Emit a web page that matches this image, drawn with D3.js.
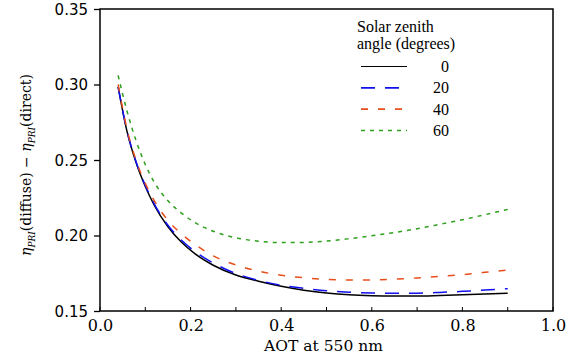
<!DOCTYPE html>
<html lang="en">
<head>
  <meta charset="UTF-8">
  <title>PRI difference vs AOT</title>
  <script src="https://d3js.org/d3.v7.min.js"></script>
</head>
<style>
  body { margin: 0; padding: 0; background: #fff; }
  svg { display: block; }
  .frame { fill: none; stroke: #000; stroke-width: 1.5px; }
  .ytick text { font-family: "DejaVu Sans", sans-serif; font-size: 15px; }
  .xtick text { font-family: "DejaVu Serif", serif; font-size: 16px; }
  .lab { font-family: "DejaVu Serif", serif; font-size: 15.5px; }
  .ylab { font-family: "DejaVu Serif", serif; font-size: 14px; }
  .leg { font-family: "Liberation Serif", serif; font-size: 16px; }
  .curve { fill: none; stroke-width: 1.5px; }
</style>
<body>
<div id="chart"></div>
<script>
  // data
  var aot = [0.04, 0.06, 0.08, 0.10, 0.12, 0.15, 0.18, 0.21, 0.25, 0.30, 0.35, 0.40,
             0.45, 0.50, 0.55, 0.60, 0.65, 0.70, 0.75, 0.80, 0.85, 0.90];
  var sza0  = [0.2985, 0.2685, 0.2480, 0.2325, 0.2200, 0.2058, 0.1955, 0.1878, 0.1803, 0.1738, 0.1697, 0.1664,
               0.1638, 0.1619, 0.1607, 0.1601, 0.1599, 0.1599, 0.1603, 0.1608, 0.1613, 0.1617];
  var sza20 = [0.2985, 0.2688, 0.2485, 0.2332, 0.2208, 0.2068, 0.1968, 0.1893, 0.1818, 0.1748, 0.1703, 0.1670,
               0.1650, 0.1634, 0.1624, 0.1619, 0.1617, 0.1618, 0.1623, 0.1630, 0.1639, 0.1648];
  var sza40 = [0.3000, 0.2700, 0.2495, 0.2345, 0.2230, 0.2100, 0.2010, 0.1940, 0.1865, 0.1805, 0.1764, 0.1737,
               0.1720, 0.1710, 0.1706, 0.1706, 0.1711, 0.1719, 0.1729, 0.1741, 0.1756, 0.1772];
  var sza60 = [0.3060, 0.2820, 0.2625, 0.2470, 0.2352, 0.2230, 0.2148, 0.2085, 0.2028, 0.1985, 0.1962, 0.1953,
               0.1954, 0.1963, 0.1979, 0.1998, 0.2020, 0.2045, 0.2074, 0.2104, 0.2138, 0.2173];
  var seriesNames = ['0', '20', '40', '60'];
  var xTicks = [0, 0.2, 0.4, 0.6, 0.8, 1.0];
  var xMinor = [0.1, 0.3, 0.5, 0.7, 0.9];
  var yTicks = [0.15, 0.20, 0.25, 0.30, 0.35];

  var series = [
    { name: seriesNames[0], values: sza0,  color: '#000000', dash: null,   width: 1.1 },
    { name: seriesNames[1], values: sza20, color: '#1010f0', dash: '14,10', width: 1.6 },
    { name: seriesNames[2], values: sza40, color: '#e84e1b', dash: '7,10',  width: 1.6 },
    { name: seriesNames[3], values: sza60, color: '#2ea01e', dash: '4,5',   width: 1.6 }
  ];

  var W = 578, H = 361;
  var plotL = 100, plotR = 553, plotT = 9, plotB = 311;

  var svg = d3.select('#chart').append('svg').attr('width', W).attr('height', H);

  var x = d3.scaleLinear().domain([0, 1]).range([plotL, plotR]);
  var y = d3.scaleLinear().domain([0.15, 0.35]).range([plotB, plotT]);

  // curves
  var line = d3.line()
    .x(function(d) { return x(d[0]); })
    .y(function(d) { return y(d[1]); })
    .curve(d3.curveMonotoneX);

  svg.selectAll('.curve')
    .data(series)
    .enter()
    .append('path')
    .attr('class', 'curve')
    .attr('d', function(s) { return line(aot.map(function(a, i) { return [a, s.values[i]]; })); })
    .attr('stroke', function(s) { return s.color; })
    .attr('stroke-width', function(s) { return s.width; })
    .attr('stroke-dasharray', function(s) { return s.dash; });

  // y axis
  var yAxis = svg.append('g')
    .attr('class', 'ytick')
    .attr('transform', 'translate(' + plotL + ',0)')
    .call(d3.axisLeft(y).tickValues(yTicks).tickFormat(d3.format('.2f')).tickSize(6).tickPadding(6));
  yAxis.select('.domain').remove();
  yAxis.selectAll('line').attr('stroke-width', 1.3);
  yAxis.selectAll('text').attr('fill', '#000').attr('dy', '0.36em');

  // x axis
  var xAxis = svg.append('g')
    .attr('class', 'xtick')
    .attr('transform', 'translate(0,' + plotB + ')')
    .call(d3.axisBottom(x).tickValues(xTicks).tickFormat(d3.format('.1f')).tickSize(0).tickPadding(9));
  xAxis.select('.domain').remove();
  xAxis.selectAll('text').attr('fill', '#000');

  svg.append('g')
    .selectAll('line')
    .data(xTicks.concat(xMinor))
    .enter()
    .append('line')
    .attr('x1', function(d) { return x(d); })
    .attr('x2', function(d) { return x(d); })
    .attr('y1', plotB)
    .attr('y2', plotB - 4)
    .attr('stroke', '#000')
    .attr('stroke-width', 1);

  // frame
  svg.append('rect')
    .attr('class', 'frame')
    .attr('x', plotL).attr('y', plotT)
    .attr('width', plotR - plotL).attr('height', plotB - plotT);

  // axis labels
  svg.append('text')
    .attr('class', 'lab')
    .attr('x', (plotL + plotR) / 2 - 3)
    .attr('y', 351)
    .attr('text-anchor', 'middle')
    .text('AOT at 550 nm');

  var yl = svg.append('text')
    .attr('class', 'ylab')
    .attr('text-anchor', 'middle')
    .attr('transform', 'translate(31,' + ((plotT + plotB) / 2 + 5) + ') rotate(-90)');
  function eta(t) {
    t.append('tspan').attr('font-style', 'italic').text('η');
    t.append('tspan').attr('font-style', 'italic').attr('font-size', '9px').attr('dy', 3.5).text('PRI');
  }
  eta(yl);
  yl.append('tspan').attr('dy', -3.5).text('(diffuse) − ');
  eta(yl);
  yl.append('tspan').attr('dy', -3.5).text('(direct)');

  // legend
  var lg = svg.append('g').attr('class', 'leg');
  lg.append('text').attr('x', 357).attr('y', 32).text('Solar zenith');
  lg.append('text').attr('x', 357).attr('y', 49).text('angle (degrees)');

  var legRow = d3.scaleLinear().domain([0, 3]).range([66.5, 130.5]);
  var items = lg.selectAll('.item')
    .data(series)
    .enter()
    .append('g')
    .attr('transform', function(s, i) { return 'translate(0,' + legRow(i) + ')'; });
  items.append('line')
    .attr('x1', 361).attr('x2', 407)
    .attr('stroke', function(s) { return s.color; })
    .attr('stroke-width', function(s) { return s.width; })
    .attr('stroke-dasharray', function(s) { return s.dash; });
  items.append('text')
    .attr('x', 449)
    .attr('y', 5.5)
    .attr('text-anchor', 'end')
    .text(function(s) { return s.name; });
</script>
</body>
</html>
